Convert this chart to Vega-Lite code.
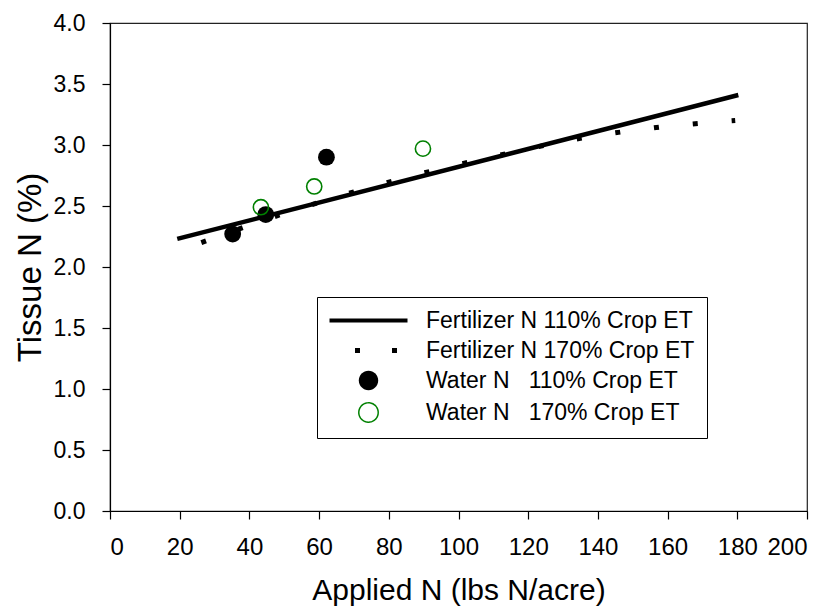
{
  "$schema": "https://vega.github.io/schema/vega-lite/v6.json",
  "width": 697,
  "height": 488,
  "autosize": {"type": "none"},
  "padding": {"left": 110, "top": 23, "right": 26, "bottom": 100},
  "background": "white",
  "config": {
    "view": {"stroke": "#222", "strokeWidth": 1.2},
    "font": "Liberation Sans",
    "axis": {
      "grid": false,
      "domainColor": "black",
      "tickColor": "black",
      "labelColor": "black",
      "titleColor": "black",
      "labelFont": "Liberation Sans",
      "titleFont": "Liberation Sans",
      "labelFontSize": 23,
      "titleFontSize": 30,
      "titleFontWeight": "normal",
      "tickSize": 8,
      "domainWidth": 1.2,
      "tickWidth": 1.2
    }
  },
  "data": {
    "values": [
      {"series": "Fertilizer N 110% Crop ET", "x": 19.3, "y": 2.23},
      {"series": "Fertilizer N 110% Crop ET", "x": 180.3, "y": 3.41},
      {"series": "Fertilizer N 170% Crop ET", "x": 26.2, "y": 2.2},
      {"series": "Fertilizer N 170% Crop ET", "x": 40, "y": 2.343},
      {"series": "Fertilizer N 170% Crop ET", "x": 50, "y": 2.44},
      {"series": "Fertilizer N 170% Crop ET", "x": 60, "y": 2.53},
      {"series": "Fertilizer N 170% Crop ET", "x": 70, "y": 2.616},
      {"series": "Fertilizer N 170% Crop ET", "x": 80, "y": 2.696},
      {"series": "Fertilizer N 170% Crop ET", "x": 90, "y": 2.771},
      {"series": "Fertilizer N 170% Crop ET", "x": 100, "y": 2.84},
      {"series": "Fertilizer N 170% Crop ET", "x": 110, "y": 2.905},
      {"series": "Fertilizer N 170% Crop ET", "x": 120, "y": 2.968},
      {"series": "Fertilizer N 170% Crop ET", "x": 130, "y": 3.03},
      {"series": "Fertilizer N 170% Crop ET", "x": 140, "y": 3.08},
      {"series": "Fertilizer N 170% Crop ET", "x": 150, "y": 3.12},
      {"series": "Fertilizer N 170% Crop ET", "x": 160, "y": 3.155},
      {"series": "Fertilizer N 170% Crop ET", "x": 170, "y": 3.18},
      {"series": "Fertilizer N 170% Crop ET", "x": 179.4, "y": 3.2},
      {"series": "Water N   110% Crop ET", "x": 35.2, "y": 2.27},
      {"series": "Water N   110% Crop ET", "x": 44.7, "y": 2.43},
      {"series": "Water N   110% Crop ET", "x": 62.1, "y": 2.9},
      {"series": "Water N   170% Crop ET", "x": 43.3, "y": 2.49},
      {"series": "Water N   170% Crop ET", "x": 58.6, "y": 2.66},
      {"series": "Water N   170% Crop ET", "x": 89.8, "y": 2.97}
    ]
  },
  "encoding": {
    "x": {
      "field": "x", "type": "quantitative",
      "scale": {"domain": [0, 200], "nice": false, "zero": false},
      "axis": {
        "values": [0, 20, 40, 60, 80, 100, 120, 140, 160, 180, 200],
        "title": "Applied N (lbs N/acre)",
        "labelFontSize": 24,
        "labelPadding": 16,
        "titleY": 79, "titleBaseline": "middle"
      }
    },
    "y": {
      "field": "y", "type": "quantitative",
      "scale": {"domain": [0, 4], "nice": false, "zero": false},
      "axis": {
        "values": [0, 0.5, 1, 1.5, 2, 2.5, 3, 3.5, 4],
        "format": ".1f",
        "title": "Tissue N (%)",
        "titleFontSize": 33,
        "labelPadding": 17,
        "titleX": -80, "titleY": 244, "titleBaseline": "middle"
      }
    },
    "color": {
      "field": "series", "type": "nominal",
      "scale": {
        "domain": ["Fertilizer N 110% Crop ET", "Fertilizer N 170% Crop ET", "Water N   110% Crop ET", "Water N   170% Crop ET"],
        "range": ["black", "black", "black", "#008000"]
      },
      "legend": {
        "orient": "none",
        "legendX": 207,
        "legendY": 274,
        "title": null,
        "padding": 12,
        "strokeColor": "black",
        "fillColor": "white",
        "symbolSize": 400,
        "symbolStrokeWidth": 1.5,
        "labelFont": "Liberation Sans",
        "labelFontSize": 23,
        "labelColor": "black",
        "labelLimit": 0,
        "rowPadding": 6,
        "symbolOffset": 28,
        "labelOffset": 46,
        "labelExpr": "replace(datum.label, '   ', '\u00a0\u00a0\u00a0')",
        "encode": {
          "symbols": {
            "update": {
              "shape": {"signal": "datum.index < 2 ? 'M-3.9,0H3.9' : 'M-0.97,0A0.97,0.97,0,1,1,0.97,0A0.97,0.97,0,1,1,-0.97,0Z'"},
              "fill": {"signal": "datum.index == 2 ? 'black' : 'white'"},
              "fillOpacity": {"signal": "datum.index == 2 ? 1 : 0"},
              "stroke": {"signal": "datum.index == 3 ? '#008000' : 'black'"},
              "strokeWidth": {"signal": "datum.index == 0 ? 4 : datum.index == 1 ? 5 : datum.index == 2 ? 0 : 1.5"},
              "strokeDash": {"signal": "datum.index == 1 ? [5, 32] : [1, 0]"},
              "strokeDashOffset": {"signal": "datum.index == 1 ? 11.5 : 0"},
              "opacity": {"value": 1}
            }
          }
        }
      }
    }
  },
  "layer": [
    {
      "transform": [{"filter": "datum.series == 'Fertilizer N 110% Crop ET'"}],
      "mark": {"type": "line", "strokeWidth": 4.5, "strokeCap": "butt"}
    },
    {
      "transform": [{"filter": "datum.series == 'Fertilizer N 170% Crop ET'"}],
      "mark": {"type": "line", "strokeWidth": 5, "strokeDash": [5, 34], "strokeCap": "butt"}
    },
    {
      "transform": [{"filter": "datum.series == 'Water N   110% Crop ET'"}],
      "mark": {"type": "point", "shape": "circle", "filled": true, "size": 283, "opacity": 1}
    },
    {
      "transform": [{"filter": "datum.series == 'Water N   170% Crop ET'"}],
      "mark": {"type": "point", "shape": "circle", "filled": false, "size": 230, "strokeWidth": 1.6, "opacity": 1}
    }
  ]
}
